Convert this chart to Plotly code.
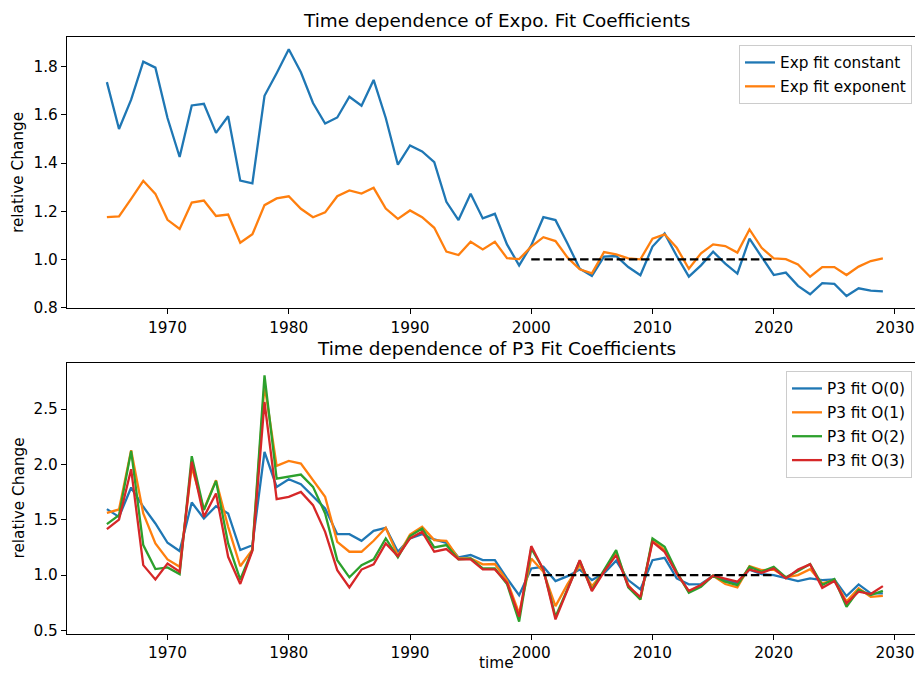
import plotly.graph_objects as go
from plotly.subplots import make_subplots


years = list(range(1965, 2030))

exp_const = [1.736, 1.541, 1.663, 1.821, 1.796, 1.587, 1.425, 1.639, 1.646, 1.525,
             1.594, 1.327, 1.316, 1.679, 1.773, 1.872, 1.777, 1.649, 1.564, 1.589,
             1.675, 1.638, 1.745, 1.587, 1.393, 1.473, 1.448, 1.404, 1.239, 1.163,
             1.272, 1.170, 1.189, 1.062, 0.975, 1.058, 1.175, 1.163, 1.065, 0.961,
             0.931, 1.011, 1.014, 0.968, 0.934, 1.053, 1.108, 1.014, 0.928, 0.975,
             1.032, 0.982, 0.941, 1.086, 1.010, 0.935, 0.945, 0.890, 0.855, 0.901,
             0.898, 0.848, 0.880, 0.870, 0.867]

exp_expo = [1.175, 1.178, 1.251, 1.326, 1.272, 1.164, 1.126, 1.236, 1.244, 1.180,
            1.186, 1.069, 1.104, 1.225, 1.253, 1.262, 1.210, 1.175, 1.195, 1.262,
            1.286, 1.273, 1.297, 1.211, 1.168, 1.203, 1.175, 1.131, 1.032, 1.018,
            1.073, 1.041, 1.073, 1.005, 1.001, 1.053, 1.092, 1.076, 1.007, 0.959,
            0.942, 1.030, 1.021, 1.004, 1.000, 1.086, 1.104, 1.048, 0.961, 1.025,
            1.062, 1.055, 1.028, 1.124, 1.048, 1.004, 1.001, 0.979, 0.928, 0.968,
            0.968, 0.935, 0.970, 0.993, 1.004]

p3_o0 = [1.596, 1.526, 1.791, 1.617, 1.466, 1.292, 1.217, 1.656, 1.511, 1.623,
         1.557, 1.226, 1.270, 2.113, 1.797, 1.866, 1.821, 1.707, 1.602, 1.370,
         1.370, 1.310, 1.400, 1.427, 1.211, 1.331, 1.370, 1.322, 1.292, 1.160,
         1.181, 1.135, 1.135, 0.970, 0.819, 1.060, 1.075, 0.946, 0.990, 1.050,
         0.955, 1.015, 1.130, 0.955, 0.871, 1.135, 1.156, 0.970, 0.916, 0.919,
         0.994, 0.955, 0.925, 1.050, 1.009, 1.000, 0.970, 0.946, 0.970, 0.955,
         0.961, 0.810, 0.916, 0.835, 0.835]

p3_o1 = [1.562, 1.593, 2.128, 1.557, 1.286, 1.142, 1.075, 1.978, 1.593, 1.857,
         1.436, 1.080, 1.230, 2.720, 1.987, 2.032, 2.008, 1.857, 1.707, 1.301,
         1.211, 1.211, 1.310, 1.427, 1.175, 1.367, 1.436, 1.316, 1.310, 1.150,
         1.150, 1.097, 1.100, 0.950, 0.654, 1.150, 1.030, 0.720, 0.920, 1.090,
         0.900, 1.030, 1.200, 0.910, 0.780, 1.316, 1.226, 1.015, 0.850, 0.910,
         0.994, 0.919, 0.889, 1.081, 1.045, 1.050, 0.980, 1.000, 1.054, 0.925,
         0.955, 0.760, 0.880, 0.804, 0.813]

p3_o2 = [1.460, 1.541, 2.122, 1.271, 1.054, 1.069, 1.009, 2.074, 1.587, 1.851,
         1.286, 0.960, 1.226, 2.805, 1.872, 1.887, 1.908, 1.797, 1.557, 1.135,
         0.980, 1.090, 1.142, 1.331, 1.160, 1.352, 1.421, 1.250, 1.271, 1.142,
         1.150, 1.060, 1.060, 0.920, 0.579, 1.240, 1.050, 0.624, 0.880, 1.130,
         0.865, 1.045, 1.226, 0.889, 0.780, 1.331, 1.256, 1.030, 0.840, 0.895,
         0.994, 0.940, 0.910, 1.075, 1.030, 1.075, 0.980, 1.036, 1.100, 0.910,
         0.964, 0.714, 0.865, 0.820, 0.858]

p3_o3 = [1.415, 1.502, 1.957, 1.090, 0.961, 1.105, 1.030, 2.023, 1.526, 1.737,
         1.165, 0.920, 1.220, 2.564, 1.686, 1.707, 1.752, 1.632, 1.391, 1.045,
         0.889, 1.050, 1.097, 1.286, 1.170, 1.331, 1.391, 1.211, 1.235, 1.142,
         1.142, 1.051, 1.051, 0.930, 0.624, 1.262, 1.050, 0.600, 0.870, 1.135,
         0.856, 1.030, 1.180, 0.900, 0.800, 1.300, 1.210, 1.015, 0.858, 0.910,
         0.994, 0.964, 0.940, 1.050, 1.020, 1.060, 0.970, 1.050, 1.097, 0.885,
         0.946, 0.745, 0.850, 0.829, 0.900]

ref_years = [2000, 2020]
ref_level = [1.0, 1.0]

colors = ['#1f77b4', '#ff7f0e', '#2ca02c', '#d62728']
font = 'DejaVu Sans'
fs = 15.3
lw = 2.3
dash = '8.5px,3.7px'


def pad(vals):
    lo, hi = min(vals), max(vals)
    m = 0.05 * (hi - lo)
    return [lo - m, hi + m]


fig = make_subplots(rows=2, cols=1)

fig.add_trace(go.Scatter(x=years, y=exp_const, mode='lines', name='Exp fit constant',
                         legendgroup='a', line=dict(color=colors[0], width=lw)), row=1, col=1)
fig.add_trace(go.Scatter(x=years, y=exp_expo, mode='lines', name='Exp fit exponent',
                         legendgroup='b', line=dict(color=colors[1], width=lw)), row=1, col=1)
fig.add_trace(go.Scatter(x=ref_years, y=ref_level, mode='lines', showlegend=False,
                         line=dict(color='black', width=lw, dash=dash)), row=1, col=1)

p3 = [p3_o0, p3_o1, p3_o2, p3_o3]
for i, vals in enumerate(p3):
    fig.add_trace(go.Scatter(x=years, y=vals, mode='lines', name='P3 fit O(%d)' % i,
                             legend='legend2', legendgroup='g%d' % i,
                             line=dict(color=colors[i], width=lw)), row=2, col=1)
fig.add_trace(go.Scatter(x=ref_years, y=ref_level, mode='lines', showlegend=False,
                         legend='legend2',
                         line=dict(color='black', width=lw, dash=dash)), row=2, col=1)

# the page body adds an 8px offset, so the figure is shifted by -8px and kept
# small enough not to overflow the window
# plot areas (screen pixels): x 67..915, rows y 37..308 and 363..634
H = 597.0
W = 848.0
axis_style = dict(showline=True, linecolor='black', linewidth=1.2, ticks='outside',
                  ticklen=5, tickwidth=1.2, tickcolor='black', showgrid=False,
                  zeroline=False, tickfont=dict(family=font, size=fs, color='black'))

xr = [1961.71, 2031.65]
fig.update_xaxes(range=xr, tickvals=[1970, 1980, 1990, 2000, 2010, 2020, 2030],
                 mirror=True, **axis_style)
fig.update_yaxes(mirror=False, tickformat='.1f', **axis_style)
fig.update_layout(
    yaxis=dict(domain=[(634 - 308.3) / H, 1.0], range=pad(exp_const + exp_expo),
               tickvals=[0.8, 1.0, 1.2, 1.4, 1.6, 1.8]),
    yaxis2=dict(domain=[0.0, (634 - 363) / H], range=pad(p3_o0 + p3_o1 + p3_o2 + p3_o3),
                tickvals=[0.5, 1.0, 1.5, 2.0, 2.5]),
)

annos = [
    dict(text='Time dependence of Expo. Fit Coefficients', x=(496 - 67) / W,
         y=(634 - 21) / H, font=dict(size=18.4)),
    dict(text='Time dependence of P3 Fit Coefficients', x=(496 - 67) / W,
         y=(634 - 348) / H, font=dict(size=18.4)),
    dict(text='relative Change', x=(18 - 67) / W, y=(634 - 173) / H, textangle=-90,
         font=dict(size=fs)),
    dict(text='relative Change', x=(18 - 67) / W, y=(634 - 498.5) / H, textangle=-90,
         font=dict(size=fs)),
    dict(text='time', x=(496 - 67) / W, y=(634 - 663) / H, font=dict(size=fs)),
]
for a in annos:
    a.update(xref='paper', yref='paper', showarrow=False, xanchor='center',
             yanchor='middle')
    a['font'].update(family=font, color='black')

legend_style = dict(bgcolor='rgba(255,255,255,0.8)', bordercolor='#cccccc', borderwidth=1,
                    font=dict(family=font, size=fs, color='black'), xanchor='right',
                    yanchor='top', itemwidth=30, tracegroupgap=1)

fig.update_layout(
    width=907, height=664,
    margin=dict(l=59, r=0, t=29, b=38),
    paper_bgcolor='white', plot_bgcolor='white',
    font=dict(family=font, size=fs, color='black'),
    annotations=annos,
    legend=dict(x=(912 - 67) / W, y=(634 - 45) / H, **legend_style),
    legend2=dict(x=(912 - 67) / W, y=(634 - 371) / H, **legend_style),
)

fig.write_html("out.html")
